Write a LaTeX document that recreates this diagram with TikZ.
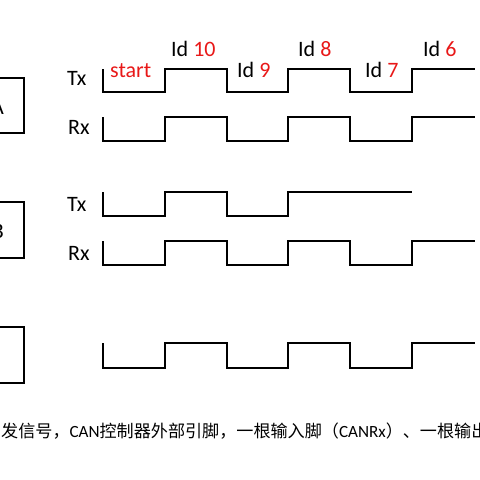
\documentclass[tikz,border=0pt]{standalone}
\usepackage{fontspec}
\setmainfont{Carlito}
\newfontfamily\cjk{Noto Sans CJK SC}
\definecolor{idred}{RGB}{232,24,24}
\begin{document}
\begin{tikzpicture}[x=1pt,y=-1pt,
  wave/.style={line width=2pt,line join=miter,line cap=butt,black},
  box/.style={line width=2.4pt,black},
  lbl/.style={anchor=base west,inner sep=0pt,font=\fontsize{22}{24}\selectfont},
  idn/.style={text=idred}]
\useasboundingbox (0,0) rectangle (480,480);
% boxes
\draw[box] (-40,78) rectangle (24,133);
\draw[box] (-40,202) rectangle (24,258);
\draw[box] (-40,327) rectangle (24,383);
\node[lbl,anchor=base east] (la) at (4,114) {A};
\node[lbl,anchor=base east] (lb) at (4,238) {B};
% labels
\node[lbl] (tx1) at (67,85) {Tx};
\node[lbl] (rx1) at (68,134) {Rx};
\node[lbl] (tx2) at (67,211) {Tx};
\node[lbl] (rx2) at (68,260) {Rx};
\node[lbl,idn] (st) at (110,77.7) {start};
\node[lbl] (i10) at (171,56.5) {Id \textcolor{idred}{10}};
\node[lbl] (i9) at (237,77.7) {Id \textcolor{idred}{9}};
\node[lbl] (i8) at (298,56) {Id \textcolor{idred}{8}};
\node[lbl] (i7) at (365,77.7) {Id \textcolor{idred}{7}};
\node[lbl] (i6) at (423,56) {Id \textcolor{idred}{6}};
% A Tx
\draw[wave] (103,69) -- (103,92) -- (165,92) -- (165,69) -- (227,69) -- (227,92) -- (288,92) -- (288,69) -- (350,69) -- (350,92) -- (412,92) -- (412,69) -- (475,69);
% A Rx
\draw[wave] (103,117) -- (103,141) -- (165,141) -- (165,117) -- (227,117) -- (227,141) -- (288,141) -- (288,117) -- (350,117) -- (350,141) -- (412,141) -- (412,117) -- (475,117);
% B Tx
\draw[wave] (103,192) -- (103,216) -- (165,216) -- (165,192) -- (227,192) -- (227,216) -- (288,216) -- (288,192) -- (412,192);
% B Rx
\draw[wave] (103,241) -- (103,265) -- (165,265) -- (165,241) -- (227,241) -- (227,265) -- (288,265) -- (288,241) -- (350,241) -- (350,265) -- (412,265) -- (412,241) -- (475,241);
% C
\draw[wave] (103,343) -- (103,368) -- (165,368) -- (165,343) -- (227,343) -- (227,368) -- (288,368) -- (288,343) -- (350,343) -- (350,368) -- (412,368) -- (412,343) -- (475,343);
% caption
\node[anchor=base west,inner sep=0pt,font=\fontsize{17.1}{18}\selectfont] (cap) at (1,437)
 {{\cjk 发信号，}CAN{\cjk 控制器外部引脚，一根输入脚（}CANRx{\cjk ）、一根输出}};
\end{tikzpicture}
\end{document}
